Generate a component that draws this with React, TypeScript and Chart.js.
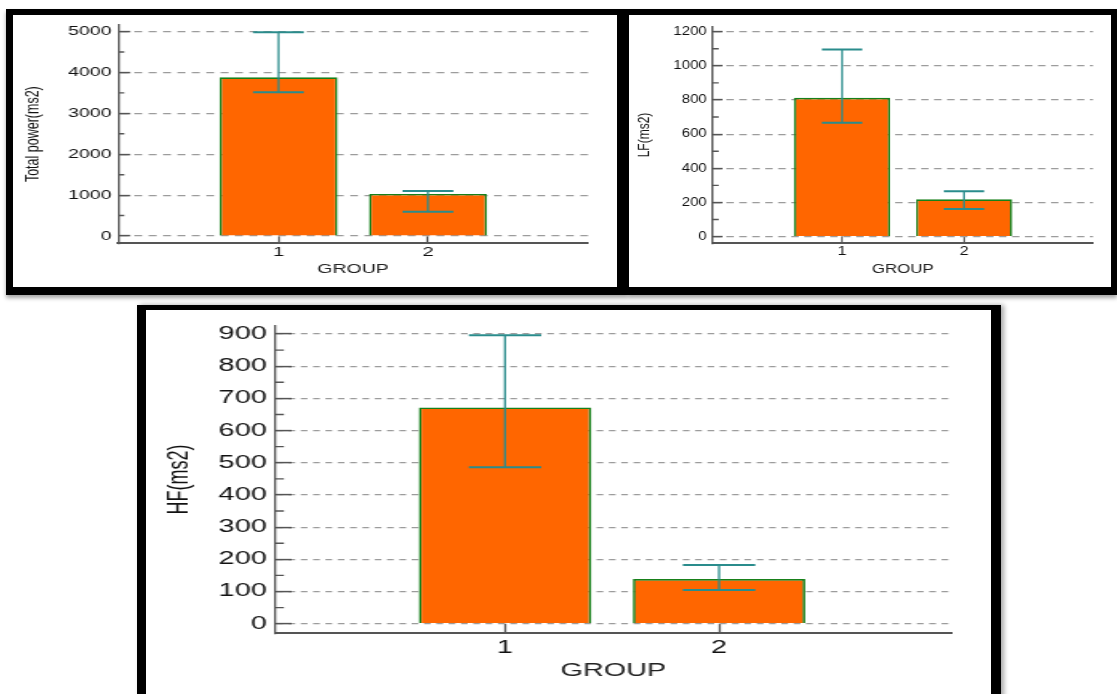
import React, { useEffect, useRef } from 'react';
import { Chart, registerables } from 'chart.js';

Chart.register(...registerables);

// ---------- data ----------
const groupLabels = ['1', '2'];

const totalPowerMeans = [3880, 1030];
const totalPowerLower = [3515, 595];
const totalPowerUpper = [4980, 1100];
const totalPowerTicks = [0, 1000, 2000, 3000, 4000, 5000];

const lfMeans = [813, 219];
const lfLower = [667, 162];
const lfUpper = [1096, 265];
const lfTicks = [0, 200, 400, 600, 800, 1000, 1200];

const hfMeans = [672, 139];
const hfLower = [486, 105];
const hfUpper = [896, 182];
const hfTicks = [0, 100, 200, 300, 400, 500, 600, 700, 800, 900];

// ---------- styles ----------
const FONT = '"Liberation Sans", Arial, Helvetica, sans-serif';
const BAR_FILL = '#ff6600';
const BAR_EDGE = '#17801a';
const ERR_COLOR = '#2a8c8c';
const GRID_COLOR = '#9c9c9c';
const AXIS_COLOR = '#555555';
const TEXT_COLOR = '#111111';

const errorBarPlugin = {
  id: 'errorBars',
  afterDatasetsDraw(chart: any, _args: any, opts: any) {
    const meta = chart.getDatasetMeta(0);
    const y = chart.scales.y;
    const ctx = chart.ctx;
    ctx.save();
    ctx.strokeStyle = opts.color;
    meta.data.forEach((bar: any, i: number) => {
      const cx = bar.x;
      const yl = y.getPixelForValue(opts.lower[i]);
      const yh = y.getPixelForValue(opts.upper[i]);
      const half = (bar.width * opts.capRatio) / 2;
      ctx.lineWidth = opts.stemWidth;
      ctx.beginPath();
      ctx.moveTo(cx, yl);
      ctx.lineTo(cx, yh);
      ctx.stroke();
      ctx.lineWidth = opts.capWidth;
      ctx.beginPath();
      ctx.moveTo(cx - half, yh);
      ctx.lineTo(cx + half, yh);
      ctx.moveTo(cx - half, yl);
      ctx.lineTo(cx + half, yl);
      ctx.stroke();
    });
    ctx.restore();
  },
};

const minorTickPlugin = {
  id: 'minorTicks',
  afterDatasetsDraw(chart: any, _args: any, opts: any) {
    const y = chart.scales.y;
    const left = chart.chartArea.left;
    const vals = y.ticks.map((t: any) => t.value);
    const ctx = chart.ctx;
    ctx.save();
    ctx.strokeStyle = opts.color;
    ctx.lineWidth = opts.width;
    ctx.beginPath();
    for (let i = 0; i < vals.length - 1; i++) {
      const py = y.getPixelForValue((vals[i] + vals[i + 1]) / 2);
      ctx.moveTo(left, py);
      ctx.lineTo(left + opts.length, py);
    }
    ctx.stroke();
    ctx.restore();
  },
};

type Spec = {
  bufW: number; cssW: number; cssH: number;
  means: number[]; lower: number[]; upper: number[]; ticks: number[];
  yMin: number; yMax: number; xMin: number; xMax: number;
  padTop: number; padRight: number; yWidth: number; xHeight: number;
  yTickLen: number; yMinorLen: number; yLabelGap: number; yBorderWidth: number;
  yTitle: string; yTitleSize: number; yTitlePad: number; tickSize: number;
  xTickLen: number; xLabelSize: number; xLabelPad: number; xTitleSize: number; xTitlePad: number;
  barPct: number; dash: number[]; capRatio: number; errStem: number; errCap: number;
};

function Panel({ spec, frame }: { spec: Spec; frame: React.CSSProperties }) {
  const ref = useRef<HTMLCanvasElement | null>(null);
  useEffect(() => {
    if (!ref.current) return;
    const s = spec;
    const zeroPad = (sc: any) => {
      sc.paddingLeft = 0; sc.paddingRight = 0; sc.paddingTop = 0; sc.paddingBottom = 0;
    };
    const chart = new Chart(ref.current, {
      type: 'bar',
      data: {
        labels: groupLabels,
        datasets: [{
          data: s.means,
          backgroundColor: BAR_FILL,
          borderColor: BAR_EDGE,
          borderWidth: 1.7,
          barPercentage: s.barPct,
          categoryPercentage: 1,
        }],
      },
      options: {
        responsive: false,
        maintainAspectRatio: false,
        animation: false,
        devicePixelRatio: 1,
        events: [],
        layout: { padding: { left: 0, top: s.padTop, right: s.padRight, bottom: 0 } },
        plugins: {
          legend: { display: false },
          tooltip: { enabled: false },
          errorBars: { lower: s.lower, upper: s.upper, color: ERR_COLOR, capRatio: s.capRatio, stemWidth: s.errStem, capWidth: s.errCap },
          minorTicks: { length: s.yMinorLen, color: AXIS_COLOR, width: 1.4 },
        } as any,
        scales: {
          x: {
            type: 'linear',
            min: s.xMin,
            max: s.xMax,
            offset: false,
            afterBuildTicks: (sc: any) => { sc.ticks = groupLabels.map((l) => ({ value: Number(l) })); },
            afterFit: (sc: any) => { sc.height = s.xHeight; zeroPad(sc); },
            grid: { display: true, offset: false, drawOnChartArea: false, drawTicks: true, tickLength: -s.xTickLen, tickColor: AXIS_COLOR, tickWidth: 1.3 },
            border: { display: true, color: AXIS_COLOR, width: 2 },
            ticks: { padding: s.xLabelPad, autoSkip: false, maxRotation: 0, color: TEXT_COLOR, font: { family: FONT, size: s.xLabelSize }, callback: (v: any) => String(v) },
            title: { display: true, text: 'GROUP', color: '#222', font: { family: FONT, size: s.xTitleSize }, padding: { top: 0, bottom: s.xTitlePad } },
          },
          y: {
            type: 'linear',
            min: s.yMin,
            max: s.yMax,
            afterBuildTicks: (sc: any) => { sc.ticks = s.ticks.map((v) => ({ value: v })); },
            afterFit: (sc: any) => { sc.width = s.yWidth; zeroPad(sc); },
            grid: { color: GRID_COLOR, lineWidth: 1.2, drawTicks: true, tickLength: -s.yTickLen, tickColor: AXIS_COLOR, tickWidth: 1.5 },
            border: { display: true, color: AXIS_COLOR, width: s.yBorderWidth, dash: s.dash },
            ticks: { padding: s.yTickLen + s.yLabelGap, autoSkip: false, color: TEXT_COLOR, font: { family: FONT, size: s.tickSize }, callback: (v: any) => String(v) },
            title: { display: true, text: s.yTitle, color: TEXT_COLOR, font: { family: FONT, size: s.yTitleSize }, padding: { top: s.yTitlePad, bottom: 0 } },
          },
        },
      } as any,
      plugins: [errorBarPlugin, minorTickPlugin],
    });
    return () => chart.destroy();
  }, [spec]);

  return (
    <div style={{ position: 'absolute', boxSizing: 'border-box', borderStyle: 'solid', borderColor: '#000', background: '#fff', ...frame }}>
      <canvas
        ref={ref}
        width={spec.bufW}
        height={spec.cssH}
        style={{ position: 'absolute', left: 0, top: 0, width: spec.cssW + 'px', height: spec.cssH + 'px' }}
      />
    </div>
  );
}

const totalSpec: Spec = {
  bufW: 403, cssW: 604, cssH: 272,
  means: totalPowerMeans, lower: totalPowerLower, upper: totalPowerUpper, ticks: totalPowerTicks,
  yMin: -178, yMax: 5160, xMin: -0.072, xMax: 3.07,
  padTop: 10, padRight: 19.4, yWidth: 70.26, xHeight: 43.7,
  yTickLen: 8, yMinorLen: 4, yLabelGap: 4.5, yBorderWidth: 1.3,
  yTitle: 'Total power(ms2)', yTitleSize: 12.5, yTitlePad: 5.8, tickSize: 13,
  xTickLen: 7, xLabelSize: 13.5, xLabelPad: 7.6, xTitleSize: 13, xTitlePad: 10.2,
  barPct: 0.79, dash: [5.3, 4.3], capRatio: 0.43, errStem: 1.3, errCap: 2,
};

const lfSpec: Spec = {
  bufW: 386, cssW: 482, cssH: 272,
  means: lfMeans, lower: lfLower, upper: lfUpper, ticks: lfTicks,
  yMin: -39, yMax: 1229, xMin: -0.06, xMax: 3.057,
  padTop: 11.7, padRight: 14.4, yWidth: 67.03, xHeight: 43.7,
  yTickLen: 8, yMinorLen: 4.8, yLabelGap: 4.8, yBorderWidth: 1.5,
  yTitle: 'LF(ms2)', yTitleSize: 12, yTitlePad: 5.6, tickSize: 12,
  xTickLen: 7, xLabelSize: 13, xLabelPad: 7.6, xTitleSize: 13.5, xTitlePad: 9.9,
  barPct: 0.787, dash: [6, 4.4], capRatio: 0.42, errStem: 1.5, errCap: 2,
};

const hfSpec: Spec = {
  bufW: 528, cssW: 845, cssH: 384,
  means: hfMeans, lower: hfLower, upper: hfUpper, ticks: hfTicks,
  yMin: -29.8, yMax: 925.8, xMin: -0.075, xMax: 3.087,
  padTop: 15.7, padRight: 24.6, yWidth: 80.6, xHeight: 60.7,
  yTickLen: 10.4, yMinorLen: 5.6, yLabelGap: 5.2, yBorderWidth: 1.3,
  yTitle: 'HF(ms2)', yTitleSize: 18, yTitlePad: 9.8, tickSize: 18,
  xTickLen: 9.6, xLabelSize: 18, xLabelPad: 13.8, xTitleSize: 18, xTitlePad: 11.9,
  barPct: 0.806, dash: [4.2, 3.5], capRatio: 0.42, errStem: 1.3, errCap: 2,
};

export default function App() {
  return (
    <div style={{ position: 'fixed', left: 0, top: 0, width: 1117, height: 694, overflow: 'hidden', background: '#fff' }}>
      <Panel
        spec={totalSpec}
        frame={{ left: 6, top: 9, width: 622, height: 286, borderWidth: '6px 11px 8px 7px', boxShadow: '0 3px 4px rgba(0,0,0,0.35)' }}
      />
      <Panel
        spec={lfSpec}
        frame={{ left: 628, top: 9, width: 489, height: 286, borderWidth: '6px 6px 8px 1px', boxShadow: '0 3px 4px rgba(0,0,0,0.35)' }}
      />
      <Panel
        spec={hfSpec}
        frame={{ left: 137, top: 305, width: 864, height: 400, borderWidth: '5px 10px 9px 9px', boxShadow: '3px 0 5px rgba(0,0,0,0.35)' }}
      />
    </div>
  );
}
